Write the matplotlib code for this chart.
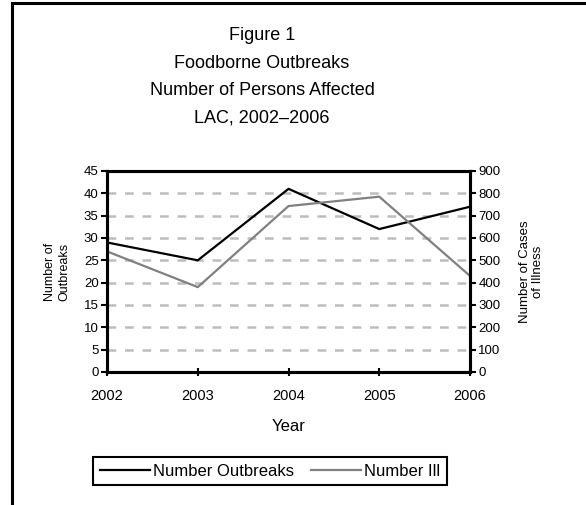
import matplotlib.pyplot as plt
from matplotlib.lines import Line2D

plt.rcParams['font.family'] = ['Liberation Sans', 'DejaVu Sans']

years = [2002, 2003, 2004, 2005, 2006]
outbreaks = [29, 25, 41, 32, 37]
ill = [540, 380, 743, 785, 430]

fig = plt.figure(figsize=(5.86, 5.05), dpi=100)
ax = fig.add_axes([0.1826, 0.2634, 0.6195, 0.398])
ax2 = ax.twinx()

# frame around the figure (left and top only)
fig.add_artist(Line2D([12/586, 12/586], [0, 1 - 3/505], color='black', lw=2.2))
fig.add_artist(Line2D([12/586, 1], [1 - 3/505, 1 - 3/505], color='black', lw=2.2))

l1, = ax.plot(years, outbreaks, color='black', lw=1.6, label='Number Outbreaks', zorder=5)
l2, = ax2.plot(years, ill, color='#808080', lw=1.6, label='Number Ill')

ax.set_xlim(2002, 2006)
ax.set_ylim(0, 45)
ax2.set_ylim(0, 900)
ax.set_xticks(years)
ax.set_yticks(range(0, 46, 5))
ax2.set_yticks(range(0, 901, 100))
for y in range(5, 45, 5):
    ax.axhline(y, color='#bdbdbd', lw=1.8, ls=(0, (3.5, 3.5)), zorder=1)

for a in (ax, ax2):
    for s in a.spines.values():
        s.set_linewidth(2.2)
    a.tick_params(labelsize=9.5, width=1.5, length=4, pad=2)
ax.tick_params(axis='x', direction='inout', length=6, pad=9, labelsize=10.5)

ax.set_ylabel('Number of\nOutbreaks', fontsize=9, labelpad=10)
ax2.set_ylabel('Number of Cases\nof Illness', fontsize=9.5, labelpad=13)
ax.set_xlabel('Year', fontsize=12, labelpad=12)

title_lines = ['Figure 1', 'Foodborne Outbreaks', 'Number of Persons Affected', 'LAC, 2002\u20132006']
for t, ypix in zip(title_lines, [35, 63, 91, 118]):
    fig.text(262/586, 1 - ypix/505, t, ha='center', va='center', fontsize=13)

leg = fig.legend([l1, l2], ['Number Outbreaks', 'Number Ill'], loc='center',
                 bbox_to_anchor=(270/586, 1 - 471/505), ncol=2, fontsize=12,
                 fancybox=False, edgecolor='black', framealpha=1, handlelength=3.0,
                 handletextpad=0.2, columnspacing=1.0, borderpad=0.4)
leg.get_frame().set_linewidth(1.5)

fig.savefig('out.png', dpi=100)
